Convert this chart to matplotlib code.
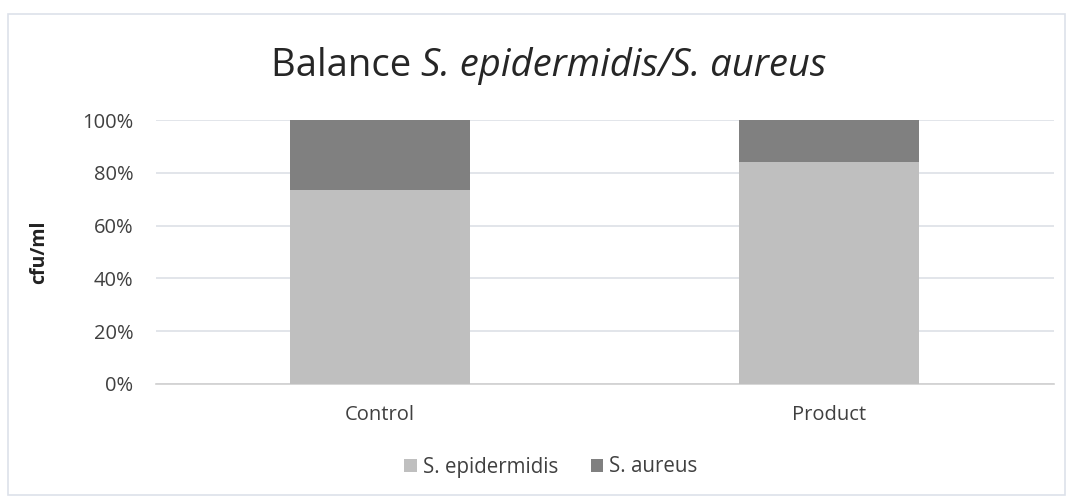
import numpy as np
import matplotlib.pyplot as plt
from matplotlib.patches import Rectangle

plt.rcParams['font.family'] = ['Open Sans', 'DejaVu Sans']

categories = ['Control', 'Product']
epidermidis = [73.5, 84.2]
aureus = [26.5, 15.8]
yticks = [0, 20, 40, 60, 80, 100]

fig = plt.figure(figsize=(10.73, 5.03), dpi=100)
# chart border
fig.patches.append(Rectangle((8 / 1073, 1 - 495 / 503), 1057 / 1073, 481 / 503,
                             transform=fig.transFigure, fill=False,
                             edgecolor='#dde1ea', linewidth=1.2))

ax = fig.add_axes([0.145, 0.2366, 0.837, 0.5248])
x = np.arange(len(categories))
ax.bar(x, epidermidis, width=0.4, color='#bfbfbf', label='S. epidermidis', zorder=3)
ax.bar(x, aureus, width=0.4, bottom=epidermidis, color='#808080', label='S. aureus', zorder=3)

ax.set_xlim(-0.5, 1.5)
ax.set_ylim(0, 100)
ax.set_yticks(yticks)
ax.set_yticklabels(['{}%'.format(t) for t in yticks])
ax.set_xticks(x)
ax.set_xticklabels(categories)
ax.tick_params(axis='both', length=0, labelsize=14.5, colors='#404040')
ax.tick_params(axis='y', pad=16)
ax.tick_params(axis='x', pad=15)
ax.grid(axis='y', color='#dde0e6', linewidth=1.2, zorder=0)
for s in ['top', 'right', 'left']:
    ax.spines[s].set_visible(False)
ax.spines['bottom'].set_color('#d0d0d0')
ax.spines['bottom'].set_linewidth(1.2)

ax.set_ylabel('cfu/ml', fontsize=14, fontweight='bold', color='#222222', labelpad=24)

# title: plain part + italic part placed side by side
ty = 1 - 66 / 503
t1 = fig.text(0, ty, 'Balance ', ha='left', va='center',
              fontsize=27.5, color='#262626')
t2 = fig.text(0, ty, 'S. epidermidis/S. aureus', ha='left', va='center',
              fontsize=27.5, color='#262626', style='italic')
fig.canvas.draw()
r = fig.canvas.get_renderer()
w1 = t1.get_window_extent(r).width
w2 = t2.get_window_extent(r).width
x0 = (548.5 - (w1 + w2) / 2) / fig.bbox.width
t1.set_x(x0)
t2.set_x(x0 + w1 / fig.bbox.width)

handles, labels = ax.get_legend_handles_labels()
fig.legend(handles, labels, loc='center', bbox_to_anchor=(551 / 1073, 1 - 467 / 503),
           ncol=2, frameon=False, fontsize=14.8, handlelength=0.6, handleheight=0.6,
           handletextpad=0.3, columnspacing=1.6, labelcolor='#404040')

fig.savefig('out.png', dpi=100)
